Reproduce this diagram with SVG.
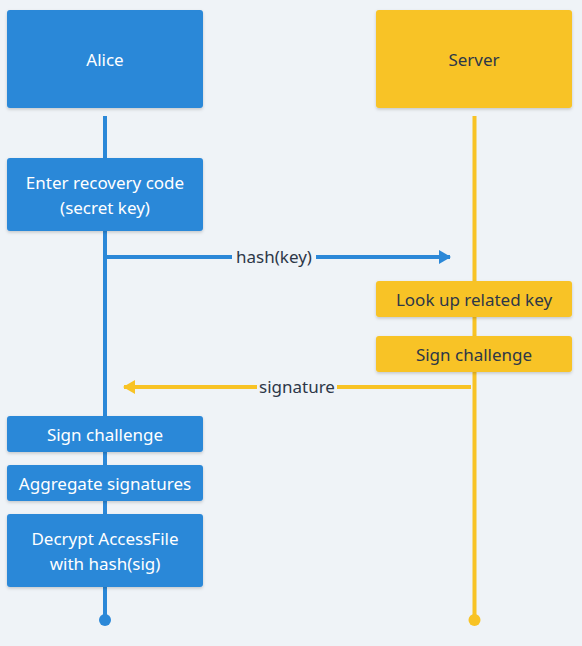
<svg xmlns="http://www.w3.org/2000/svg" width="582" height="646" viewBox="0 0 582 646">
<defs>
<filter id="sh" x="-10%" y="-20%" width="120%" height="150%">
<feDropShadow dx="0" dy="1.5" stdDeviation="1.5" flood-color="#000" flood-opacity="0.18"/>
</filter>
<marker id="ab" viewBox="0 0 12 14" refX="11" refY="7" markerWidth="12" markerHeight="14" markerUnits="userSpaceOnUse" orient="auto"><path d="M0,0 L12,7 L0,14 Z" fill="#2b88d8"/></marker>
<marker id="ay" viewBox="0 0 12 14" refX="11" refY="7" markerWidth="12" markerHeight="14" markerUnits="userSpaceOnUse" orient="auto"><path d="M0,0 L12,7 L0,14 Z" fill="#f8c325"/></marker>
</defs>
<style>
text{font-family:"Noto Sans","Open Sans","Liberation Sans",sans-serif;font-size:17px;text-anchor:middle;dominant-baseline:central}
.b rect{fill:#2b88d8;filter:url(#sh)}
.b text{fill:#ffffff}
.y rect{fill:#f8c325;filter:url(#sh)}
.y text,.lbl{fill:#2d3748}
.lb{stroke:#2b88d8;stroke-width:4;fill:none}
.ly{stroke:#f8c325;stroke-width:4;fill:none}
</style>
<rect width="582" height="646" fill="#eff3f7"/>
<g id="lifelines">
<line class="lb" x1="105" y1="116" x2="105" y2="620"/>
<circle cx="105" cy="620" r="6" fill="#2b88d8"/>
<line class="ly" x1="474.5" y1="116" x2="474.5" y2="620"/>
<circle cx="474.5" cy="620" r="6" fill="#f8c325"/>
</g>
<g id="alice" class="b"><rect x="7" y="10" width="196" height="98" rx="3"/><text x="105" y="59">Alice</text></g>
<g id="server" class="y"><rect x="376" y="10" width="196" height="98" rx="3"/><text x="474" y="59">Server</text></g>
<g id="enter" class="b"><rect x="7" y="158" width="196" height="73" rx="3"/><text x="105" y="182">Enter recovery code</text><text x="105" y="207">(secret key)</text></g>
<g id="lookup" class="y"><rect x="376" y="281" width="196" height="36" rx="3"/><text x="474" y="299">Look up related key</text></g>
<g id="signsrv" class="y"><rect x="376" y="336" width="196" height="36" rx="3"/><text x="474" y="354">Sign challenge</text></g>
<g id="signalice" class="b"><rect x="7" y="416" width="196" height="36" rx="3"/><text x="105" y="434">Sign challenge</text></g>
<g id="aggregate" class="b"><rect x="7" y="465" width="196" height="36" rx="3"/><text x="105" y="483">Aggregate signatures</text></g>
<g id="decrypt" class="b"><rect x="7" y="514" width="196" height="73" rx="3"/><text x="105" y="538">Decrypt AccessFile</text><text x="105" y="563">with hash(sig)</text></g>
<g id="connectors">
<line class="lb" x1="105" y1="257" x2="232" y2="257"/>
<line class="lb" x1="316" y1="257" x2="450" y2="257" marker-end="url(#ab)"/>
<text class="lbl" x="274" y="256">hash(key)</text>
<line class="ly" x1="471" y1="387" x2="337" y2="387"/>
<line class="ly" x1="257" y1="387" x2="124" y2="387" marker-end="url(#ay)"/>
<text class="lbl" x="297" y="386">signature</text>
</g>
</svg>
